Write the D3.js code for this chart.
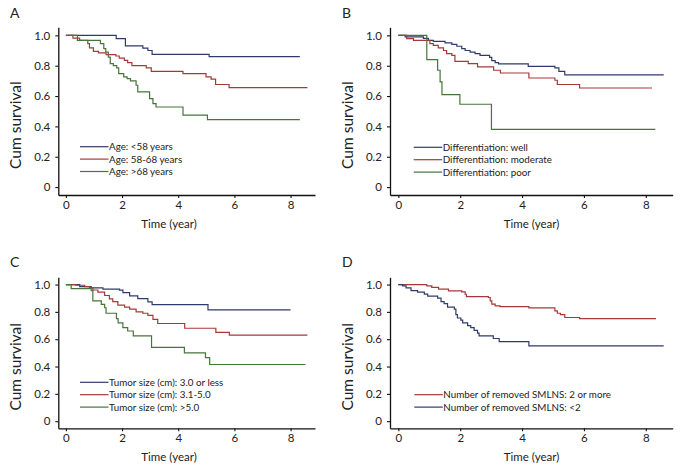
<!DOCTYPE html>
<html>
<head>
<meta charset="utf-8">
<script src="https://cdn.jsdelivr.net/npm/d3@7"></script>
<style>
  body { margin: 0; background: #fff; }
  svg { display: block; }
  svg text { font-family: Lato, "Open Sans", sans-serif; fill: #222; }
</style>
</head>
<body>
<div class="chart"></div>
<script>
var blue = "#2f3b6b",
    red = "#a83838",
    green = "#46753a";

// survival steps, [time (year), cum survival]
var ageLt58 = [[0,1],[1.79,0.978],[2.12,0.93],[2.74,0.916],[2.92,0.90],[3.07,0.875],[5.1,0.86],[8.33,0.86]];
var age5868 = [[0,1],[0.25,0.982],[0.49,0.967],[0.78,0.945],[0.84,0.917],[0.98,0.895],[1.16,0.885],[1.43,0.873],[1.78,0.864],[1.9,0.85],[2.08,0.835],[2.2,0.82],[2.35,0.80],[2.86,0.785],[3.04,0.762],[4.17,0.748],[4.99,0.726],[5.17,0.711],[5.33,0.676],[5.81,0.656],[8.6,0.656]];
var ageGt68 = [[0,1],[0.41,0.967],[1.23,0.945],[1.35,0.912],[1.42,0.89],[1.51,0.857],[1.58,0.814],[1.69,0.80],[1.81,0.785],[1.88,0.748],[2.06,0.726],[2.18,0.715],[2.3,0.70],[2.5,0.671],[2.56,0.627],[2.98,0.583],[3.1,0.55],[3.21,0.528],[4.17,0.474],[5.04,0.445],[8.33,0.445]];

var diffWell = [[0,1],[0.22,0.99],[0.81,0.98],[0.97,0.967],[1.13,0.96],[1.51,0.95],[1.73,0.94],[1.89,0.928],[2.05,0.913],[2.16,0.90],[2.32,0.89],[2.48,0.88],[2.64,0.868],[2.95,0.855],[3.02,0.834],[3.13,0.82],[3.24,0.812],[4.2,0.796],[5.06,0.785],[5.19,0.763],[5.38,0.74],[8.58,0.74]];
var diffModerate = [[0,1],[0.27,0.978],[0.49,0.967],[1.02,0.945],[1.13,0.934],[1.29,0.917],[1.46,0.90],[1.56,0.879],[1.73,0.868],[1.83,0.829],[2.26,0.814],[2.56,0.792],[3.08,0.77],[3.3,0.752],[4.22,0.719],[5.06,0.704],[5.14,0.676],[5.86,0.653],[8.2,0.653]];
var diffPoor = [[0,1],[0.92,0.84],[1.27,0.77],[1.35,0.693],[1.41,0.61],[1.99,0.546],[3.01,0.38],[8.31,0.38]];

var size3 = [[0,1],[0.49,0.985],[0.9,0.976],[1.32,0.966],[1.91,0.959],[2.03,0.941],[2.27,0.917],[2.56,0.897],[2.92,0.873],[3.07,0.853],[5.06,0.815],[8.0,0.815]];
var size31 = [[0,1],[0.35,0.995],[0.67,0.985],[0.84,0.975],[0.96,0.96],[1.14,0.945],[1.38,0.92],[1.55,0.895],[1.67,0.875],[1.85,0.85],[2.09,0.835],[2.27,0.82],[2.5,0.80],[2.74,0.79],[2.92,0.775],[3.1,0.745],[3.27,0.715],[4.23,0.68],[5.34,0.65],[5.82,0.63],[8.6,0.63]];
var size5 = [[0,1],[0.19,0.97],[0.9,0.955],[0.96,0.88],[1.26,0.855],[1.38,0.83],[1.43,0.79],[1.8,0.75],[1.86,0.72],[2.03,0.685],[2.2,0.66],[2.4,0.625],[3.05,0.54],[4.22,0.50],[4.97,0.465],[5.12,0.415],[8.53,0.415]];

var smlnsMore = [[0,1],[0.92,0.99],[1.08,0.98],[1.3,0.966],[1.62,0.954],[2.05,0.946],[2.16,0.929],[2.2,0.912],[2.91,0.905],[2.97,0.88],[3.02,0.856],[3.13,0.844],[3.29,0.839],[4.22,0.829],[5.06,0.807],[5.14,0.79],[5.24,0.78],[5.38,0.759],[5.86,0.751],[8.33,0.751]];
var smlnsLess = [[0,1],[0.14,0.99],[0.25,0.975],[0.41,0.955],[0.62,0.945],[0.84,0.93],[0.95,0.915],[1.27,0.90],[1.38,0.875],[1.48,0.86],[1.59,0.835],[1.81,0.82],[1.86,0.78],[1.91,0.755],[2.02,0.74],[2.08,0.72],[2.24,0.70],[2.34,0.685],[2.45,0.665],[2.56,0.645],[2.61,0.624],[3.07,0.605],[3.26,0.583],[4.22,0.551],[8.58,0.551]];

var x_ticks = [0, 2, 4, 6, 8],
    y_ticks = [0, 0.2, 0.4, 0.6, 0.8, 1.0],
    y_tick_labels = ["0", "0.2", "0.4", "0.6", "0.8", "1.0"];

var panels = [
  { letter: "A", lx: 10, ly: 18, left: 58.3, right: 315, top: 27.3, bottom: 195, titleX: 169,
    legX: 80, legY: 146.7,
    series: [
      { name: "Age: <58 years", data: ageLt58, color: blue },
      { name: "Age: 58-68 years", data: age5868, color: red },
      { name: "Age: >68 years", data: ageGt68, color: green } ] },
  { letter: "B", lx: 342, ly: 18, left: 390, right: 672.7, top: 27.3, bottom: 195, titleX: 531.5,
    legX: 413.7, legY: 147.3,
    series: [
      { name: "Differentiation: well", data: diffWell, color: blue },
      { name: "Differentiation: moderate", data: diffModerate, color: red },
      { name: "Differentiation: poor", data: diffPoor, color: green } ] },
  { letter: "C", lx: 10, ly: 267, left: 58.3, right: 315, top: 277.3, bottom: 428.3, titleX: 169,
    legX: 80, legY: 382.3,
    series: [
      { name: "Tumor size (cm): 3.0 or less", data: size3, color: blue },
      { name: "Tumor size (cm): 3.1-5.0", data: size31, color: red },
      { name: "Tumor size (cm): >5.0", data: size5, color: green } ] },
  { letter: "D", lx: 342, ly: 267, left: 390, right: 672.7, top: 277.3, bottom: 428.3, titleX: 531.5,
    legX: 414.3, legY: 394.7,
    series: [
      { name: "Number of removed SMLNS: 2 or more", data: smlnsMore, color: red },
      { name: "Number of removed SMLNS: <2", data: smlnsLess, color: blue } ] }
];

var svg = d3.select(".chart").append("svg")
    .attr("width", 682)
    .attr("height", 468);

panels.forEach(function(p) {
  var x = d3.scaleLinear().domain([-0.27, 8.87]).range([p.left, p.right]);
  var y = d3.scaleLinear().domain([-0.052, 1.053]).range([p.bottom, p.top]);
  var g = svg.append("g");

  g.append("text")
    .attr("x", p.lx)
    .attr("y", p.ly)
    .style("font-size", "14px")
    .text(p.letter);

  // axes
  var xAxis = g.append("g")
    .attr("transform", "translate(0," + p.bottom + ")")
    .call(d3.axisBottom(x).tickValues(x_ticks).tickSize(3).tickPadding(3).tickSizeOuter(0));
  var yAxis = g.append("g")
    .attr("transform", "translate(" + p.left + ",0)")
    .call(d3.axisLeft(y).tickValues(y_ticks).tickSize(3).tickPadding(5).tickSizeOuter(0)
      .tickFormat(function(d, i) { return y_tick_labels[i]; }));
  [xAxis, yAxis].forEach(function(a) {
    a.select(".domain").attr("stroke", "#111").attr("stroke-width", 1.3);
    a.selectAll(".tick line").attr("stroke", "#111").attr("stroke-width", 1.1);
    a.selectAll(".tick text").style("font-size", "11.5px").style("font-family", "Lato, sans-serif").attr("fill", "#222");
  });

  g.append("text")
    .attr("x", p.titleX)
    .attr("y", p.bottom + 33)
    .attr("text-anchor", "middle")
    .style("font-size", "11.5px")
    .text("Time (year)");

  g.append("text")
    .attr("transform", "translate(" + (p.left - 37) + "," + ((p.top + p.bottom) / 2 + 14) + ") rotate(-90)")
    .attr("text-anchor", "middle")
    .style("font-size", "15.5px")
    .text("Cum survival");

  var line = d3.line()
    .x(function(d) { return x(d[0]); })
    .y(function(d) { return y(d[1]); })
    .curve(d3.curveStepAfter);

  p.series.forEach(function(s, i) {
    g.append("path")
      .datum(s.data)
      .attr("d", line)
      .attr("fill", "none")
      .attr("stroke", s.color)
      .attr("stroke-width", 1.2);

    var ly = p.legY + i * 12.4;
    g.append("line")
      .attr("x1", p.legX).attr("x2", p.legX + 28.5)
      .attr("y1", ly).attr("y2", ly)
      .attr("stroke", s.color)
      .attr("stroke-width", 1.2);
    g.append("text")
      .attr("x", p.legX + 29)
      .attr("y", ly)
      .attr("dy", "0.35em")
      .style("font-size", "9.8px")
      .text(s.name);
  });
});
</script>
</body>
</html>
